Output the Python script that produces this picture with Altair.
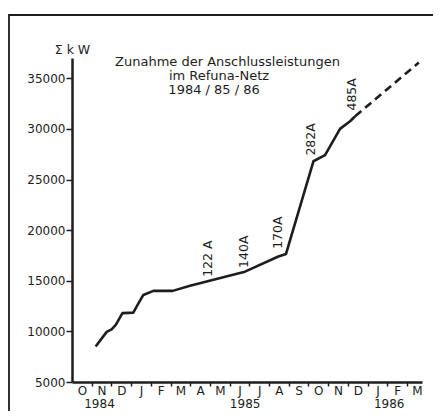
import json
import altair as alt
import pandas as pd

# ---- data ----
months = ["O", "N", "D", "J", "F", "M", "A", "M", "J", "J", "A", "S", "O", "N", "D", "J", "F", "M"]
years = ["1984", "1985", "1986"]
year_pos = [1.37, 8.76, 16.07]          # month index (0 = 1 Oct 1984)

line_t = [1.20, 1.76, 2.01, 2.22, 2.56, 3.11, 3.32, 3.62, 4.13, 5.11, 5.99,
          8.27, 8.78, 10.47, 10.86, 12.25, 12.84, 13.60, 14.11, 14.37]
line_kw = [8500, 9950, 10200, 10650, 11800, 11850, 12600, 13600, 14000, 14000, 14500,
           15650, 15900, 17400, 17650, 26800, 27400, 30000, 30750, 31250]

proj_t = [14.37, 17.60]
proj_kw = [31250, 36550]

ann_text = ["122 A", "140A", "170A", "282A", "485A"]
ann_t = [6.90, 8.73, 10.43, 12.13, 14.19]
ann_kw = [17180, 17870, 19750, 28960, 33410]

title_lines = ["Zunahme der Anschlussleistungen", "im Refuna-Netz", "1984 / 85 / 86"]
title_t = [7.89, 7.46, 7.21]
title_kw = [36580, 35200, 33810]

y_ticks = [5000, 10000, 15000, 20000, 25000, 30000, 35000]

# ---- styling ----
INK = "#1d1d1d"
FONT = "DejaVu Sans"

X = alt.Scale(domain=[0, 17.76], nice=False, zero=False)
Y = alt.Scale(domain=[5000, 37000], nice=False, zero=False)

line_df = pd.DataFrame({"t": line_t, "kw": line_kw})
proj_df = pd.DataFrame({"t": proj_t, "kw": proj_kw})
ann_df = pd.DataFrame({"t": ann_t, "kw": ann_kw, "label": ann_text})
title_df = pd.DataFrame({"t": title_t, "kw": title_kw, "label": title_lines})

tick_axis = alt.Axis(
    values=list(range(1, len(months))), labels=False, ticks=True, tickSize=4,
    tickWidth=1.5, tickColor=INK, domain=True, domainWidth=2.5, domainColor=INK,
    grid=False, title=None, orient="bottom",
)
month_axis = alt.Axis(
    values=[i + 0.5 for i in range(len(months))],
    labelExpr=f"{json.dumps(months)}[floor(datum.value)]",
    ticks=False, domain=False, grid=False, title=None, orient="bottom",
    labelPadding=3, labelFont=FONT, labelFontSize=12, labelColor=INK,
    labelFlush=False, labelOverlap=False,
)
year_axis = alt.Axis(
    values=year_pos,
    labelExpr=f"{json.dumps(years)}[indexof({json.dumps(year_pos)}, datum.value)]",
    ticks=False, domain=False, grid=False, title=None, orient="bottom",
    labelPadding=16, labelFont=FONT, labelFontSize=12, labelColor=INK,
    labelFlush=False, labelOverlap=False,
)
y_axis = alt.Axis(
    values=y_ticks, format="d", tickSize=6, tickWidth=1.5, tickColor=INK,
    domainWidth=2.5, domainColor=INK, grid=False, orient="left",
    labelFont=FONT, labelFontSize=12, labelColor=INK, labelPadding=1, labelFlush=False,
    title="Σ k W", titleAngle=0, titleX=0, titleY=-9, titleAlign="center",
    titleBaseline="middle", titleFont=FONT, titleFontSize=12.5,
    titleFontWeight="normal", titleColor=INK,
)

frame = alt.Chart(pd.DataFrame({"k": [0]})).mark_rect(
    fillOpacity=0, stroke=INK, strokeWidth=1.8
).encode(
    x=alt.value(-63), x2=alt.value(420), y=alt.value(-43), y2=alt.value(430)
)

line = alt.Chart(line_df).mark_line(color=INK, strokeWidth=2.6, strokeJoin="round").encode(
    x=alt.X("t:Q", scale=X, axis=tick_axis),
    y=alt.Y("kw:Q", scale=Y, axis=y_axis),
)

proj = alt.Chart(proj_df).mark_line(color=INK, strokeWidth=2.6, strokeDash=[8, 5]).encode(
    x=alt.X("t:Q", scale=X, axis=month_axis),
    y=alt.Y("kw:Q", scale=Y, axis=None),
)

ann = alt.Chart(ann_df).mark_text(
    angle=270, font=FONT, fontSize=12.5, color=INK, align="center", baseline="middle"
).encode(
    x=alt.X("t:Q", scale=X, axis=year_axis),
    y=alt.Y("kw:Q", scale=Y, axis=None),
    text="label:N",
)

titles = alt.Chart(title_df).mark_text(
    font=FONT, fontSize=13, color=INK, align="center", baseline="middle"
).encode(
    x=alt.X("t:Q", scale=X, axis=None),
    y=alt.Y("kw:Q", scale=Y, axis=None),
    text="label:N",
)

chart = (
    alt.layer(frame, line, proj, ann, titles)
    .resolve_axis(x="independent", y="independent")
    .properties(
        width=350,
        height=324,
        padding={"left": 64, "top": 50, "right": 11, "bottom": 29},
        autosize=alt.AutoSizeParams(type="none"),
        background="white",
    )
    .configure_view(stroke=None)
)

chart.save("out.html", embed_options={"renderer": "svg", "actions": False})
